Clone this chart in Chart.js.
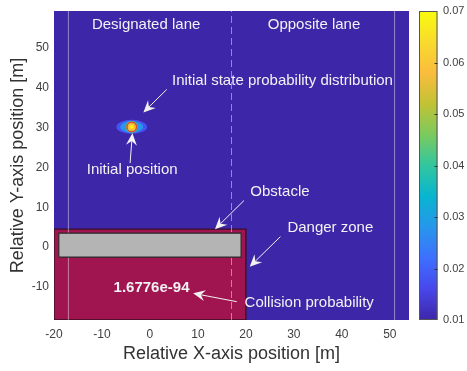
<!DOCTYPE html>
<html>
<head>
<meta charset="utf-8">
<script src="https://cdn.jsdelivr.net/npm/chart.js@4.4.1/dist/chart.umd.min.js"></script>
<style>
  html, body { margin: 0; padding: 0; background: #fff; overflow: hidden; }
  #wrap { width: 467px; height: 371px; }
</style>
</head>
<body>
<div id="wrap"><canvas id="probCanvas"></canvas></div>
<script>
// axes
const xRange = [-20, 54];
const yRange = [-18.3, 59.3];
const xTicks = [-20, -10, 0, 10, 20, 30, 40, 50];
const yTicks = [-10, 0, 10, 20, 30, 40, 50];
const cbRange = [0.01, 0.07];
const cbTicks = [0.01, 0.02, 0.03, 0.04, 0.05, 0.06, 0.07];

// road layout
const laneX = [-17, 17, 51];
const laneDashed = [false, true, false];
const dangerX = [-20, 20];
const dangerY = [-18.3, 4.5];
const obstacleX = [-19, 19];
const obstacleY = [-2.5, 3.5];

// initial state probability (contour bands around the start point)
const initPos = [-3.8, 30.2];
const blobLevels = [0.018, 0.028, 0.045, 0.058, 0.068];
const blobRx = [3.2, 2.4, 1.25, 0.83, 0.42];
const blobRy = [1.76, 1.5, 1.5, 1.0, 0.5];
const ringR = [0.98, 1.18];
const collisionProb = 1.6776e-94;

const FONT = "'Liberation Sans', Arial, Helvetica, sans-serif";

// parula, sampled at 11 points
const parula = [
  [62, 38, 168], [71, 71, 235], [62, 111, 255], [39, 150, 235], [8, 181, 208],
  [49, 198, 159], [123, 202, 94], [194, 194, 53], [250, 188, 61], [248, 219, 45], [249, 251, 14]
];
function cmap(v) {
  let t = (v - cbRange[0]) / (cbRange[1] - cbRange[0]);
  t = Math.max(0, Math.min(1, t)) * (parula.length - 1);
  const i = Math.min(Math.floor(t), parula.length - 2), f = t - i;
  const a = parula[i], b = parula[i + 1];
  return `rgb(${a.map((c, k) => Math.round(c + (b[k] - c) * f)).join(',')})`;
}

function rect(xs, ys) {
  return [
    { x: xs[0], y: ys[0] }, { x: xs[1], y: ys[0] },
    { x: xs[1], y: ys[1] }, { x: xs[0], y: ys[1] }, { x: xs[0], y: ys[0] }
  ];
}

const notes = [
  { text: 'Designated lane', x: -0.8, y: 55.8, align: 'center' },
  { text: 'Opposite lane', x: 34.2, y: 55.8, align: 'center' },
  { text: 'Initial state probability distribution', x: 4.6, y: 41.7, align: 'left' },
  { text: 'Initial position', x: -3.7, y: 19.4, align: 'center' },
  { text: 'Obstacle', x: 27.1, y: 13.9, align: 'center' },
  { text: 'Danger zone', x: 37.6, y: 4.8, align: 'center' },
  { text: collisionProb.toExponential(4), x: 0.33, y: -10.2, align: 'center', bold: true },
  { text: 'Collision probability', x: 33.2, y: -14.0, align: 'center' }
];
const arrows = [
  { from: [3.5, 39.6], to: [-1.37, 33.8] },
  { from: [-4.14, 21.1], to: [-3.66, 28.6] },
  { from: [19.6, 11.7], to: [13.55, 4.5] },
  { from: [27.2, 2.64], to: [20.8, -4.9] },
  { from: [18.1, -13.7], to: [9.0, -11.6] }
];

// plot background = lowest colormap value
const backgroundPlugin = {
  id: 'plotBackground',
  beforeDraw(chart) {
    const { ctx, chartArea: a } = chart;
    ctx.save();
    ctx.fillStyle = cmap(cbRange[0]);
    ctx.fillRect(a.left, a.top, a.right - a.left, a.bottom - a.top);
    ctx.restore();
  }
};

// initial distribution drawn as nested ellipses
const blobPlugin = {
  id: 'initBlob',
  beforeDatasetsDraw(chart) {
    const { ctx, scales: { x, y } } = chart;
    const cx = x.getPixelForValue(initPos[0]), cy = y.getPixelForValue(initPos[1]);
    const sx = Math.abs(x.getPixelForValue(1) - x.getPixelForValue(0));
    const sy = Math.abs(y.getPixelForValue(1) - y.getPixelForValue(0));
    ctx.save();
    ctx.filter = 'blur(0.6px)';
    blobLevels.forEach((lv, i) => {
      ctx.beginPath();
      ctx.ellipse(cx, cy, blobRx[i] * sx, blobRy[i] * sy, 0, 0, Math.PI * 2);
      ctx.fillStyle = cmap(lv);
      ctx.fill();
      if (i === 2) {
        ctx.beginPath();
        ctx.ellipse(cx, cy, ringR[0] * sx, ringR[1] * sy, 0, 0, Math.PI * 2);
        ctx.strokeStyle = '#DC4A2C';
        ctx.lineWidth = 1.6;
        ctx.stroke();
      }
    });
    ctx.restore();
  }
};

function drawArrow(ctx, x0, y0, x1, y1) {
  const ang = Math.atan2(y1 - y0, x1 - x0);
  const L = 12, W = 5.5;
  const bx = x1 - L * Math.cos(ang), by = y1 - L * Math.sin(ang);
  const nx = x1 - L * 0.65 * Math.cos(ang), ny = y1 - L * 0.65 * Math.sin(ang);
  ctx.beginPath();
  ctx.moveTo(x0, y0);
  ctx.lineTo(nx, ny);
  ctx.stroke();
  ctx.beginPath();
  ctx.moveTo(x1, y1);
  ctx.lineTo(bx + W * Math.sin(ang), by - W * Math.cos(ang));
  ctx.lineTo(nx, ny);
  ctx.lineTo(bx - W * Math.sin(ang), by + W * Math.cos(ang));
  ctx.closePath();
  ctx.fill();
}

const notesPlugin = {
  id: 'notes',
  afterDatasetsDraw(chart) {
    const { ctx, scales: { x, y } } = chart;
    ctx.save();
    ctx.fillStyle = '#F2F2F2';
    ctx.strokeStyle = '#F2F2F2';
    ctx.lineWidth = 1;
    ctx.textBaseline = 'middle';
    notes.forEach(n => {
      ctx.font = `${n.bold ? 'bold ' : ''}15px ${FONT}`;
      ctx.textAlign = n.align;
      ctx.fillText(n.text, x.getPixelForValue(n.x), y.getPixelForValue(n.y));
    });
    arrows.forEach(a => {
      drawArrow(ctx,
        x.getPixelForValue(a.from[0]), y.getPixelForValue(a.from[1]),
        x.getPixelForValue(a.to[0]), y.getPixelForValue(a.to[1]));
    });
    ctx.restore();
  }
};

// colour bar sits inside the right-hand 'cb' scale
const colorbarPlugin = {
  id: 'colorbar',
  afterDraw(chart) {
    const { ctx } = chart;
    const s = chart.scales.cb;
    const left = s.left + 10, right = s.left + 28.5;
    const top = s.getPixelForValue(cbRange[1]), bottom = s.getPixelForValue(cbRange[0]);
    const g = ctx.createLinearGradient(0, bottom, 0, top);
    for (let k = 0; k <= 40; k++) {
      g.addColorStop(k / 40, cmap(cbRange[0] + (cbRange[1] - cbRange[0]) * k / 40));
    }
    ctx.save();
    ctx.fillStyle = g;
    ctx.fillRect(left, top, right - left, bottom - top);
    ctx.strokeStyle = '#555';
    ctx.lineWidth = 1;
    ctx.strokeRect(left + 0.5, top + 0.5, right - left - 1, bottom - top - 1);
    ctx.strokeStyle = '#333';
    cbTicks.slice(1, -1).forEach(v => {
      const py = Math.round(s.getPixelForValue(v)) + 0.5;
      ctx.beginPath();
      ctx.moveTo(right - 3, py);
      ctx.lineTo(right, py);
      ctx.stroke();
    });
    ctx.restore();
  }
};

const datasets = [
  {
    label: 'Obstacle',
    data: rect(obstacleX, obstacleY),
    showLine: true, fill: 'shape', pointRadius: 0,
    backgroundColor: '#B4B4B4', borderColor: '#2B2B2B', borderWidth: 1.2,
    clip: 0, order: 0
  },
  ...laneX.map((lx, i) => ({
    label: 'Lane ' + i,
    data: [{ x: lx, y: yRange[0] }, { x: lx, y: yRange[1] }],
    showLine: true, fill: false, pointRadius: 0,
    borderColor: 'rgba(255,255,255,0.45)', borderWidth: 1,
    borderDash: laneDashed[i] ? [7, 4] : [],
    clip: 0, order: 1
  })),
  {
    label: 'Danger zone',
    data: rect(dangerX, dangerY),
    showLine: true, fill: 'shape', pointRadius: 0,
    backgroundColor: '#A01550', borderColor: '#3A0F22', borderWidth: 1.3,
    clip: 0, order: 2
  }
];

const tickFont = { family: FONT, size: 12 };
const titleFont = { family: FONT, size: 18 };

// keep tick-label overhang out of the layout
function noPad(s) {
  s.paddingTop = 0; s.paddingBottom = 0; s.paddingLeft = 0; s.paddingRight = 0;
}

new Chart(document.getElementById('probCanvas'), {
  type: 'scatter',
  data: { datasets },
  options: {
    responsive: true,
    maintainAspectRatio: false,
    animation: false,
    events: [],
    layout: { padding: { left: 0, top: 11, right: 0, bottom: 0 } },
    plugins: { legend: { display: false }, tooltip: { enabled: false } },
    scales: {
      x: {
        type: 'linear', position: 'bottom', min: xRange[0], max: xRange[1],
        afterBuildTicks: s => { s.ticks = xTicks.map(v => ({ value: v })); },
        afterFit: s => { s.height = 51; noPad(s); },
        ticks: { font: tickFont, color: '#404040', padding: 7, autoSkip: false, maxRotation: 0 },
        grid: { display: false, drawTicks: false },
        border: { display: false },
        title: { display: true, text: 'Relative X-axis position [m]', font: titleFont, color: '#333', padding: { top: 0, bottom: 6 } }
      },
      y: {
        type: 'linear', position: 'left', min: yRange[0], max: yRange[1],
        afterBuildTicks: s => { s.ticks = yTicks.map(v => ({ value: v })); },
        afterFit: s => { s.width = 54; noPad(s); },
        ticks: { font: tickFont, color: '#404040', padding: 5, autoSkip: false },
        grid: { display: false, drawTicks: false },
        border: { display: false },
        title: { display: true, text: 'Relative Y-axis position [m]', font: titleFont, color: '#333', padding: { top: 7, bottom: 0 } }
      },
      cb: {
        type: 'linear', position: 'right', min: cbRange[0], max: cbRange[1],
        afterBuildTicks: s => { s.ticks = cbTicks.map(v => ({ value: v })); },
        afterFit: s => { s.width = 58; noPad(s); },
        ticks: { font: { family: FONT, size: 11 }, color: '#404040', padding: 34, autoSkip: false, callback: v => v.toFixed(2) },
        grid: { display: false, drawTicks: false },
        border: { display: false }
      }
    }
  },
  plugins: [backgroundPlugin, blobPlugin, notesPlugin, colorbarPlugin]
});
</script>
</body>
</html>
